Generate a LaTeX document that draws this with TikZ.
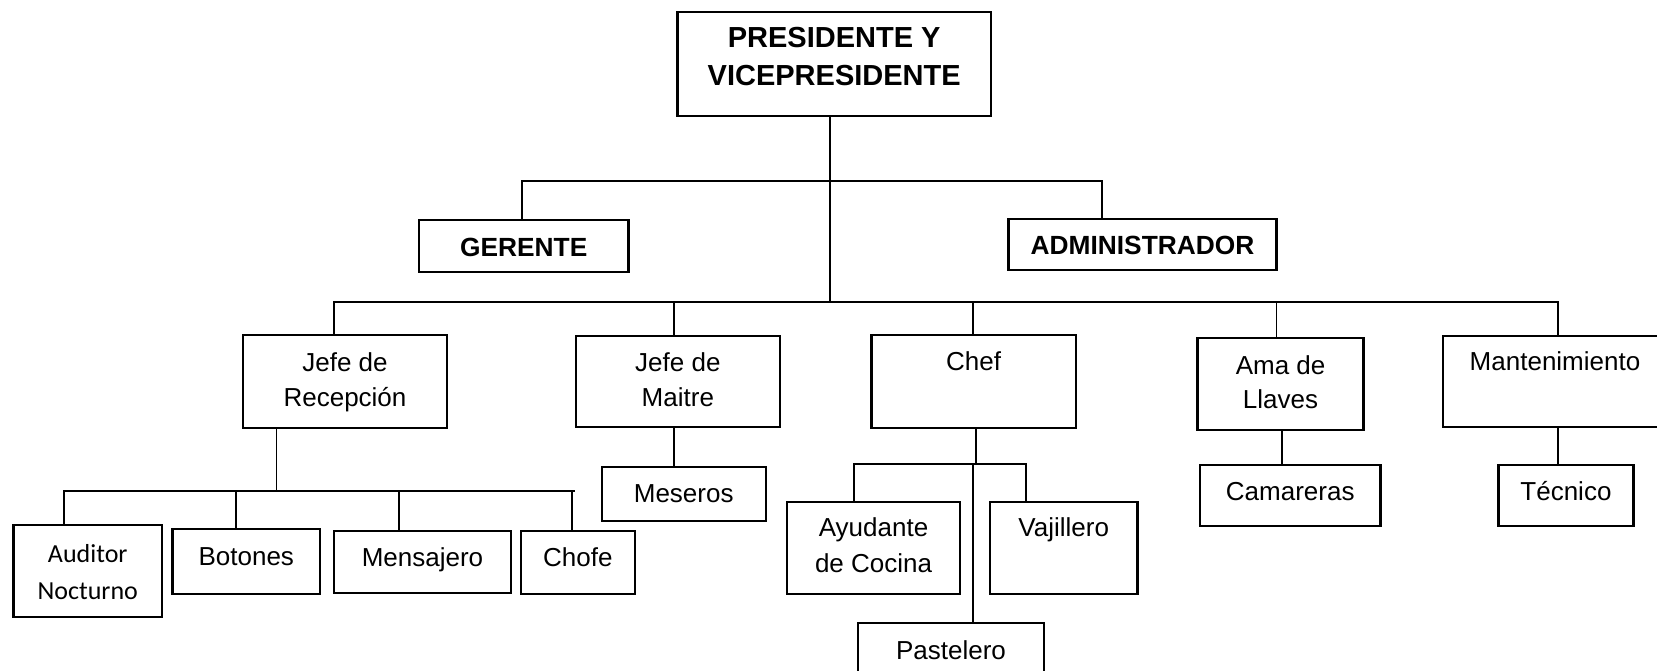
\documentclass[tikz,border=0pt]{standalone}
\usepackage{fontspec}
\setmainfont{Liberation Sans}
\newfontfamily\calib{Carlito}
\newcommand{\tbox}[4]{\parbox[c][#2pt][t]{#1pt}{\centering\rule{0pt}{#3pt}#4}}
\tikzset{
  box/.style={draw, line width=2.3pt, inner sep=0pt, outer sep=0pt, font=\fontsize{26}{35.6}\selectfont},
  bbox/.style={box, font=\bfseries\fontsize{26.3}{35}\selectfont},
  link/.style={line width=1.9pt},
}
\begin{document}
\begin{tikzpicture}[x=1pt,y=-1pt]
\useasboundingbox (0,0) rectangle (1657,670);
\fill[white] (0,0) rectangle (1657,670);
% top levels
\node[bbox, font=\bfseries\fontsize{29}{38.5}\selectfont] (pres) at (834.2,63.7) {\tbox{313.7}{104}{35.5}{PRESIDENTE Y\\VICEPRESIDENTE}};
\node[bbox] (ger) at (523.75,245.85) {\tbox{209.5}{51.7}{36}{GERENTE}};
\node[bbox] (adm) at (1142.5,244.5) {\tbox{268}{51}{35}{ADMINISTRADOR}};
% second level
\node[box] (recep) at (345,381.35) {\tbox{204}{92.7}{36}{Jefe de\\Recepción}};
\node[box] (maitre) at (677.85,381.65) {\tbox{204.3}{91.3}{35}{Jefe de\\Maitre}};
\node[box] (chef) at (973.65,381.35) {\tbox{204.3}{92.7}{35}{Chef}};
\node[box, font=\fontsize{26}{34.5}\selectfont] (ama) at (1280.55,383.85) {\tbox{165.9}{92.3}{36.3}{Ama de\\Llaves}};
\node[box] (mant) at (1555,381.65) {\tbox{223.4}{91.3}{34}{Mantenimiento}};
% third level
\node[box, font=\calib\fontsize{26}{36.7}\selectfont] (aud) at (87.75,571.15) {\tbox{148.5}{92.3}{37.3}{Auditor\\Nocturno}};
\node[box] (bot) at (246.3,561.35) {\tbox{147.4}{65.3}{36.3}{Botones}};
\node[box] (mens) at (422.5,562) {\tbox{177}{62.6}{36}{Mensajero}};
\node[box] (chofe) at (577.85,562.35) {\tbox{113.7}{63.3}{36}{Chofe}};
\node[box] (mes) at (683.7,494) {\tbox{164}{53.4}{35.4}{Meseros}};
\node[box, font=\fontsize{26}{36}\selectfont] (ayu) at (873.55,547.85) {\tbox{173.3}{92.3}{34.3}{Ayudante\\de Cocina}};
\node[box] (vaj) at (1063.75,547.85) {\tbox{147.5}{92.3}{35}{Vajillero}};
\node[box] (past) at (951,657.7) {\tbox{186.6}{70}{36.3}{Pastelero}};
\node[box] (cam) at (1290.25,495.2) {\tbox{180.7}{61}{35.3}{Camareras}};
\node[box] (tec) at (1565.95,495.35) {\tbox{134.9}{60.7}{35}{Técnico}};
% bus coordinates
\coordinate (spine) at (830,301.7);
\coordinate (gbus) at (521.8,180.7);
\coordinate (abus) at (1102,180.7);
\coordinate (admc) at (1102,219);
\coordinate (b1) at (333.8,301.7);
\coordinate (b2) at (674,301.7);
\coordinate (b3) at (973.4,301.7);
\coordinate (b4) at (1276.5,301.7);
\coordinate (b5) at (1558,301.7);
\coordinate (r0) at (276.5,491);
\coordinate (r1) at (64,491);
\coordinate (r2) at (235.7,491);
\coordinate (r3) at (399,491);
\coordinate (r4) at (575.4,491);
\coordinate (r5) at (572.4,491);
\coordinate (c0) at (975.6,464.3);
\coordinate (c1) at (854.4,464.3);
\coordinate (c2) at (1026,464.3);
\coordinate (c3) at (973.4,464.3);
\coordinate (a0) at (1281.7,430);
% connectors
\draw[link] (spine |- pres.south) -- (spine);
\draw[link] (gbus |- ger.north) -- (gbus) -- (abus) -- (admc);
\draw[link] (b1 |- recep.north) -- (b1) -- (b5) -- (b5 |- mant.north);
\draw[link] (b2) -- (b2 |- maitre.north);
\draw[link] (b3) -- (b3 |- chef.north);
\draw[link] (b4) -- (b4 |- ama.north);
\draw[link] (r0 |- recep.south) -- (r0);
\draw[link] (r1 |- aud.north) -- (r1) -- (r4);
\draw[link] (r2) -- (r2 |- bot.north);
\draw[link] (r3) -- (r3 |- mens.north);
\draw[link] (r5) -- (r5 |- chofe.north);
\draw[link] (b2 |- maitre.south) -- (b2 |- mes.north);
\draw[link] (c0 |- chef.south) -- (c0);
\draw[link] (c1 |- ayu.north) -- (c1) -- (c2) -- (c2 |- vaj.north);
\draw[link] (c3) -- (c3 |- past.north);
\draw[link] (a0 |- ama.south) -- (a0 |- cam.north);
\draw[link] (b5 |- mant.south) -- (b5 |- tec.north);
\end{tikzpicture}
\end{document}
